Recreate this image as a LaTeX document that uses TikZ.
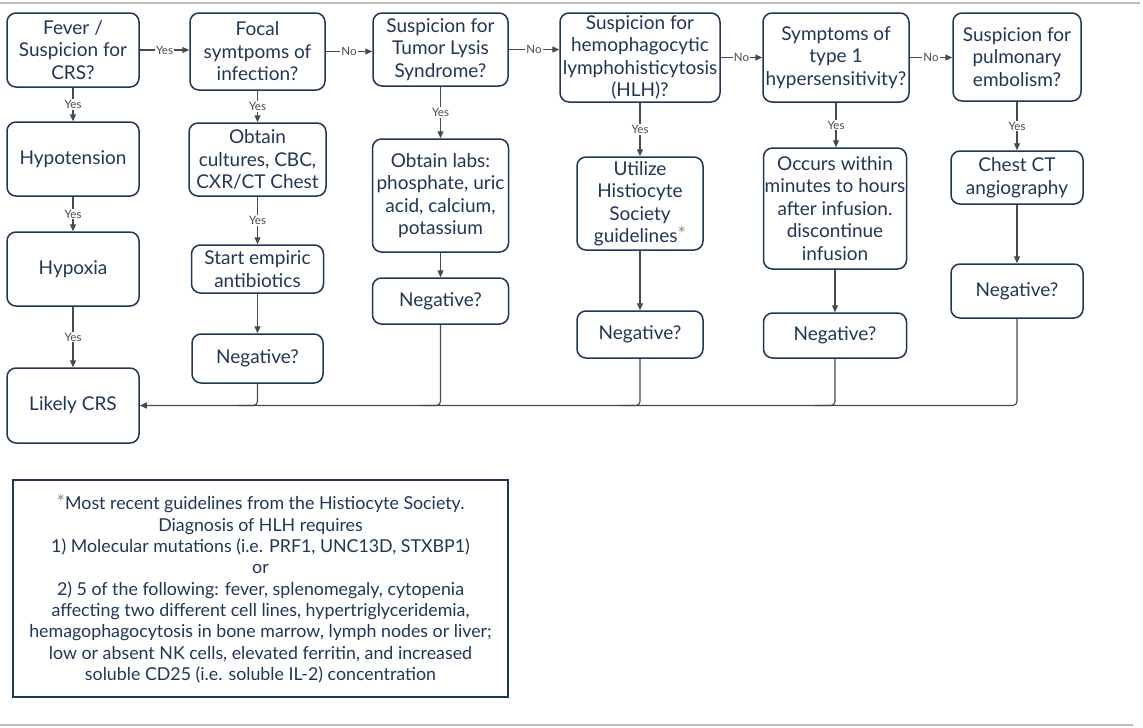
\documentclass[tikz,border=0pt]{standalone}
\usepackage{fontspec}
\setmainfont{Lato}
\usetikzlibrary{arrows.meta}
\definecolor{navy}{HTML}{1F3656}
\definecolor{edgec}{HTML}{4A4A4A}
\definecolor{rulec}{HTML}{BDBDBD}
\definecolor{starc}{HTML}{8A8A8A}
\newcommand\mybox[6]{\node[box,minimum width=#3pt,minimum height=#4pt] (#5) at (#1,#2) {#6};}
\newcommand\mystar{\raisebox{0.05em}{\textcolor{starc}{\fontsize{20}{20}\selectfont *}}}
\begin{document}
\begin{tikzpicture}[x=1pt,y=-1pt,
 box/.style={draw=navy, line width=1.5pt, rounded corners=9pt, text=navy, align=center, inner sep=0pt, font=\fontsize{19}{22.5}\selectfont},
 conn/.style={draw=edgec, line width=1.1pt},
 arr/.style={conn, -{Triangle[length=7pt,width=6pt]}},
 lbl/.style={fill=white, inner sep=1pt, text=edgec, font=\fontsize{11.5}{12}\selectfont},
 footbox/.style={draw=navy, line width=1.2pt, text=navy, align=center, inner sep=0pt, minimum width=495pt, minimum height=217pt, font=\fontsize{17.8}{21.3}\selectfont}]
\useasboundingbox (0,0) rectangle (1143,728);
\draw[rulec, line width=2pt] (0,3) -- (1140,3);
\draw[rulec, line width=1.5pt] (0,725) -- (1133,725);
% column 1
\mybox{73}{50}{132}{74}{fever}{Fever /\\Suspicion for\\CRS?}
\mybox{73}{159}{132}{74}{hypo}{Hypotension}
\mybox{73}{269}{132}{74}{hypox}{Hypoxia}
\mybox{73}{405.5}{132}{75}{likely}{Likely CRS}
% column 2
\mybox{257.5}{51.5}{135}{77}{focal}{Focal\\symtpoms of\\infection?}
\mybox{257.5}{159.5}{137}{73}{cult}{Obtain\\cultures, CBC,\\CXR/CT Chest}
\mybox{257.5}{269}{132}{48}{start}{Start empiric\\antibiotics}
\mybox{257.5}{358.5}{131}{49}{negb}{Negative?}
% column 3
\mybox{440.5}{49.5}{135}{73}{tls}{Suspicion for\\Tumor Lysis\\Syndrome?}
\mybox{440.5}{195.5}{136}{113}{labs}{Obtain labs:\\phosphate, uric\\acid, calcium,\\potassium}
\mybox{440.5}{301}{136}{46}{negc}{Negative?}
% column 4
\mybox{640}{57.5}{160}{89}{hlh}{Suspicion for\\hemophagocytic\\lymphohisticytosis\\(HLH)?}
\mybox{640}{203.5}{126}{93}{util}{Utilize\\Histiocyte\\Society\\guidelines\mystar}
\mybox{640}{334.5}{126}{47}{negd}{Negative?}
% column 5
\mybox{836}{57.5}{146}{89}{hyper}{Symptoms of\\type 1\\hypersensitivity?}
\mybox{835}{208.5}{143}{121}{occurs}{Occurs within\\minutes to hours\\after infusion.\\discontinue\\infusion}
\mybox{835}{335.5}{143}{45}{nege}{Negative?}
% column 6
\mybox{1017}{57}{128}{88}{pe}{Suspicion for\\pulmonary\\embolism?}
\mybox{1017}{177.5}{132}{53}{chest}{Chest CT\\angiography}
\mybox{1017}{291}{132}{54}{negf}{Negative?}
% footnote
\node[footbox] (foot) at (260.5,588.5) {\mystar Most recent guidelines from the Histiocyte Society.\\Diagnosis of HLH requires\\1) Molecular mutations (i.e. PRF1, UNC13D, STXBP1)\\or\\2) 5 of the following: fever, splenomegaly, cytopenia\\affecting two different cell lines, hypertriglyceridemia,\\hemagophagocytosis in bone marrow, lymph nodes or liver;\\low or absent NK cells, elevated ferritin, and increased\\soluble CD25 (i.e. soluble IL-2) concentration};
% horizontal chain
\draw[arr] (fever.east) -- node[lbl]{Yes} (focal.west |- fever.east);
\draw[arr] (focal.east) -- node[lbl]{No} (tls.west |- focal.east);
\draw[arr] (tls.east) -- node[lbl]{No} (hlh.west |- tls.east);
\draw[arr] (hlh.east) -- node[lbl]{No} (hyper.west |- hlh.east);
\draw[arr] (hyper.east) -- node[lbl]{No} (pe.west |- hyper.east);
% verticals
\draw[arr] (fever.south) -- node[lbl]{Yes} (hypo.north);
\draw[arr] (hypo.south) -- node[lbl]{Yes} (hypox.north);
\draw[arr] (hypox.south) -- node[lbl]{Yes} (likely.north);
\draw[arr] (focal.south) -- node[lbl]{Yes} (cult.north);
\draw[arr] (cult.south) -- node[lbl]{Yes} (start.north);
\draw[arr] (start.south) -- (negb.north);
\draw[arr] (tls.south) -- node[lbl]{Yes} (labs.north);
\draw[arr] (labs.south) -- (negc.north);
\draw[arr] (hlh.south) -- node[lbl]{Yes} (util.north);
\draw[arr] (util.south) -- (negd.north);
\draw[arr] (hyper.south) -- node[lbl]{Yes} (hyper.south |- occurs.north);
\draw[arr] (occurs.south) -- (nege.north);
\draw[arr] (pe.south) -- node[lbl]{Yes} (chest.north);
\draw[arr] (chest.south) -- (negf.north);
% merge to Likely CRS
\draw[arr, rounded corners=4pt] (negf.south) |- (likely.east);
\foreach \n in {negb,negc,negd,nege}
  \draw[conn, rounded corners=4pt] (\n.south) |- ([xshift=-20pt]\n.south |- likely.east);
\end{tikzpicture}
\end{document}
